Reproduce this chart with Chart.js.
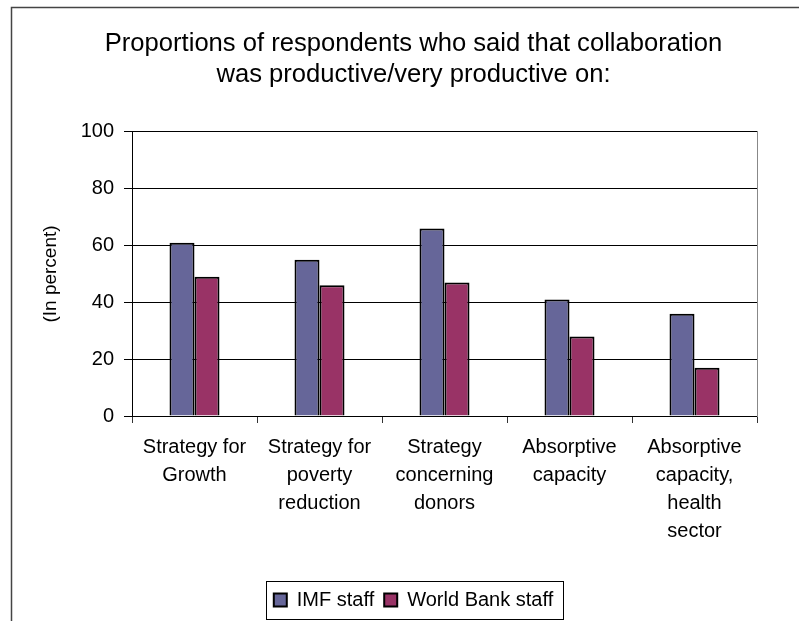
<!DOCTYPE html>
<html>
<head>
<meta charset="utf-8">
<script src="https://cdn.jsdelivr.net/npm/chart.js@4/dist/chart.umd.min.js"></script>
<style>
  html, body { margin: 0; padding: 0; background: #fff; }
  #wrap { width: 799px; height: 621px; }
</style>
</head>
<body>
<div id="wrap"><canvas id="chart" width="799" height="621"></canvas></div>
<script>
// Chart data
const categories = [
  ['Strategy for', 'Growth'],
  ['Strategy for', 'poverty', 'reduction'],
  ['Strategy', 'concerning', 'donors'],
  ['Absorptive', 'capacity'],
  ['Absorptive', 'capacity,', 'health', 'sector']
];
const imfValues = [61, 55, 66, 41, 36];
const bankValues = [49, 46, 47, 28, 17];
const yTicks = [0, 20, 40, 60, 80, 100];

const fontFamily = '"Liberation Sans", Arial, sans-serif';
Chart.defaults.color = '#000';
Chart.defaults.font.family = fontFamily;

// Draws the outer frame and a box around the legend
const framePlugin = {
  id: 'frame',
  afterDraw(chart) {
    const ctx = chart.ctx;
    ctx.save();
    ctx.strokeStyle = '#444';
    ctx.lineWidth = 1.5;
    ctx.beginPath();
    ctx.moveTo(11.5, 621);
    ctx.lineTo(11.5, 7.5);
    ctx.lineTo(799, 7.5);
    ctx.stroke();

    const boxes = chart.legend.legendHitBoxes;
    if (boxes && boxes.length) {
      let left = Infinity, right = -Infinity;
      boxes.forEach(b => {
        left = Math.min(left, b.left);
        right = Math.max(right, b.left + b.width);
      });
      ctx.strokeStyle = '#000';
      ctx.lineWidth = 1;
      ctx.strokeRect(Math.round(left - 8) + 0.5, 581.5, Math.round(right - left + 18), 38);
    }
    ctx.restore();
  }
};

new Chart(document.getElementById('chart'), {
  type: 'bar',
  data: {
    labels: categories,
    datasets: [
      {
        label: 'IMF staff',
        data: imfValues,
        backgroundColor: '#666699',
        borderColor: '#000',
        borderWidth: 2
      },
      {
        label: 'World Bank staff',
        data: bankValues,
        backgroundColor: '#993366',
        borderColor: '#000',
        borderWidth: 2
      }
    ]
  },
  options: {
    responsive: false,
    animation: false,
    layout: { padding: { left: 28, right: 0, top: 0, bottom: 1 } },
    datasets: { bar: { categoryPercentage: 0.4, barPercentage: 1 } },
    plugins: {
      title: {
        display: true,
        text: ['Proportions of respondents who said that collaboration',
               'was productive/very productive on:'],
        font: { size: 25.6, weight: 'normal', lineHeight: 1.21 },
        color: '#000',
        padding: { top: 28, bottom: 42 }
      },
      legend: {
        position: 'bottom',
        labels: {
          boxWidth: 13,
          boxHeight: 13,
          padding: 10,
          font: { size: 20 },
          color: '#000'
        }
      },
      tooltip: { enabled: false }
    },
    scales: {
      x: {
        grid: {
          drawOnChartArea: false,
          tickLength: 7,
          color: '#333',
          offset: true
        },
        border: { color: '#000', width: 1 },
        ticks: {
          font: { size: 20, lineHeight: 1.4 },
          padding: 10,
          maxRotation: 0,
          autoSkip: false
        },
        afterFit(scale) { scale.height = 164; }
      },
      y: {
        min: 0,
        max: 100,
        afterBuildTicks(scale) { scale.ticks = yTicks.map(v => ({ value: v })); },
        grid: { color: '#000', tickLength: 8 },
        border: { color: '#000', width: 1 },
        ticks: { font: { size: 20 }, padding: 10 },
        title: {
          display: true,
          text: '(In percent)',
          font: { size: 19 },
          padding: { top: 11, bottom: 0 }
        },
        afterFit(scale) { scale.width = 104; }
      },
      yRight: {
        position: 'right',
        min: 0,
        max: 100,
        grid: { drawOnChartArea: false, drawTicks: false },
        border: { color: '#888', width: 1 },
        ticks: { display: false },
        afterFit(scale) { scale.width = 42; }
      }
    }
  },
  plugins: [framePlugin]
});
</script>
</body>
</html>
